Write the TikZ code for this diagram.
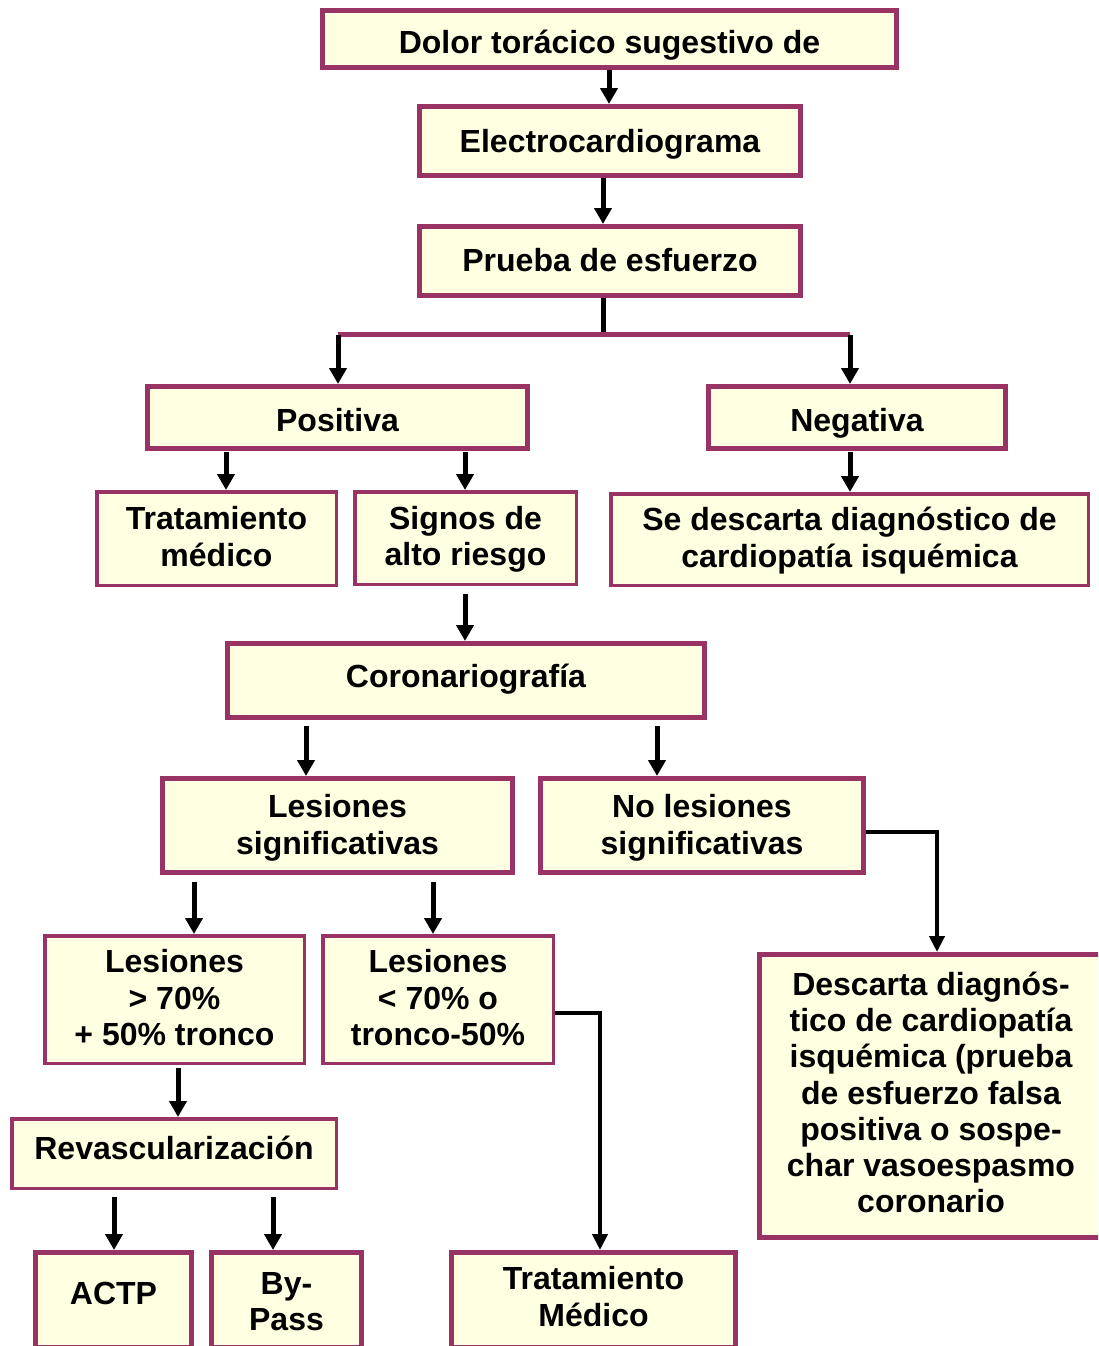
\documentclass[tikz,border=0pt]{standalone}
\usepackage{fontspec}
\setmainfont{Liberation Sans}
\usetikzlibrary{arrows.meta}
\definecolor{bord}{HTML}{993366}
\definecolor{fillc}{HTML}{FFFFE1}
\newcommand\mlines[1]{\vbox{\baselineskip=36.2pt\lineskiplimit=-20pt\halign{\hfil##\hfil\cr#1\crcr}}}
\tikzset{
  box/.style={draw=bord, fill=fillc, line width=5pt, inner sep=0pt,
    font=\fontsize{32}{36.2}\selectfont\bfseries},
  thinbox/.style={box, line width=3.5pt},
  tx/.style={text height=#1pt, text depth=0pt},
  arr/.style={line width=5pt, -{Triangle[width=17pt,length=16pt]}},
  elbow/.style={line width=4pt, -{Triangle[width=15pt,length=16pt]}},
}
\begin{document}
\begin{tikzpicture}[x=1pt,y=-1pt]
\useasboundingbox (0,0) rectangle (1098,1346);
\clip (0,0) rectangle (1098,1346);
\fill[white] (0,0) rectangle (1098,1346);

\node[box, tx=30, minimum width=574pt, minimum height=57pt] (dolor) at (609.5,39) {Dolor torácico sugestivo de};
\node[box, tx=23, minimum width=381pt, minimum height=69pt] (ecg) at (610,141) {Electrocardiograma};
\node[box, tx=21, minimum width=381pt, minimum height=69pt] (prueba) at (610,261) {Prueba de esfuerzo};
\node[box, tx=28, minimum width=380pt, minimum height=62pt] (positiva) at (337.5,417.5) {Positiva};
\node[box, tx=28, minimum width=297pt, minimum height=62pt] (negativa) at (857,417.5) {Negativa};
\node[thinbox, tx=55.2, minimum width=239.5pt, minimum height=93.5pt] (trat1) at (216.5,538.5) {\mlines{Tratamiento\cr médico}};
\node[thinbox, tx=55.2, minimum width=221.5pt, minimum height=92.5pt] (signos) at (465.5,538) {\mlines{Signos de\cr alto riesgo}};
\node[thinbox, tx=55.2, minimum width=477.5pt, minimum height=91.5pt] (sedesc) at (849.5,539.5) {\mlines{Se descarta diagnóstico de\cr cardiopatía isquémica}};
\node[box, tx=14, minimum width=477pt, minimum height=74pt] (corona) at (466,680.5) {Coronariografía};
\node[box, tx=57.2, minimum width=350pt, minimum height=94pt] (lesig) at (337.5,825.5) {\mlines{Lesiones\cr significativas}};
\node[box, tx=57.2, minimum width=323pt, minimum height=94pt] (nolesig) at (702,825.5) {\mlines{No lesiones\cr significativas}};
\node[box, tx=233.2, minimum width=343pt, minimum height=283pt] (descarta) at (931,1096) {\mlines{Descarta diagnós-\cr tico de cardiopatía\cr isquémica (prueba\cr de esfuerzo falsa\cr positiva o sospe-\cr char vasoespasmo\cr coronario}};
\node[thinbox, tx=91.4, minimum width=259.5pt, minimum height=127.5pt] (mas70) at (174.5,999.5) {\mlines{Lesiones\cr > 70\%\cr + 50\% tronco}};
\node[thinbox, tx=91.4, minimum width=230.5pt, minimum height=127.5pt] (menos70) at (438,999.5) {\mlines{Lesiones\cr < 70\% o\cr tronco-50\%}};
\node[thinbox, tx=12, minimum width=324.5pt, minimum height=69.5pt] (revasc) at (174,1153.5) {Revascularización};
\node[box, tx=9, minimum width=156pt, minimum height=95pt] (actp) at (113.5,1300) {ACTP};
\node[box, tx=61.2, minimum width=150pt, minimum height=95pt] (bypass) at (286.5,1300) {\mlines{By-\cr Pass}};
\node[box, tx=52.2, minimum width=284pt, minimum height=95pt] (tratm) at (593.5,1300) {\mlines{Tratamiento\cr Médico}};

% connectors
\draw[arr] (dolor.south -| 609,0) -- (ecg.north -| 609,0);
\draw[arr] (ecg.south -| 603,0) -- (prueba.north -| 603,0);
\coordinate (barL) at (338,334.5);
\coordinate (barR) at (850,334.5);
\draw[line width=5pt] (prueba.south -| 603,0) -- (603,332);
\draw[bord, line width=5pt] (barL) -- (barR);
\draw[arr] (barL) -- (positiva.north -| barL);
\draw[arr] (barR) -- (negativa.north -| barR);
\draw[arr] ([yshift=-1pt]positiva.south -| 226,0) -- (trat1.north -| 226,0);
\draw[arr] ([yshift=-1pt]positiva.south -| 465,0) -- (signos.north -| 465,0);
\draw[arr] ([yshift=-1pt]negativa.south -| 850,0) -- (sedesc.north -| 850,0);
\draw[arr] ([yshift=-8pt]signos.south -| 465,0) -- (corona.north -| 465,0);
\draw[arr] ([yshift=-6pt]corona.south -| 306,0) -- (lesig.north -| 306,0);
\draw[arr] ([yshift=-6pt]corona.south -| 657,0) -- (nolesig.north -| 657,0);
\draw[arr] ([yshift=-7pt]lesig.south -| 194,0) -- (mas70.north -| 194,0);
\draw[arr] ([yshift=-7pt]lesig.south -| 433,0) -- (menos70.north -| 433,0);
\draw[arr] ([yshift=-3pt]mas70.south -| 178,0) -- (revasc.north -| 178,0);
\draw[arr] ([yshift=-7pt]revasc.south -| 114,0) -- (actp.north -| 114,0);
\draw[arr] ([yshift=-7pt]revasc.south -| 273,0) -- (bypass.north -| 273,0);
\draw[elbow] (nolesig.east |- 0,832) -- (937,832) -- (descarta.north -| 937,0);
\draw[elbow] (menos70.east |- 0,1013) -- (600,1013) -- (tratm.north -| 600,0);
\end{tikzpicture}
\end{document}
